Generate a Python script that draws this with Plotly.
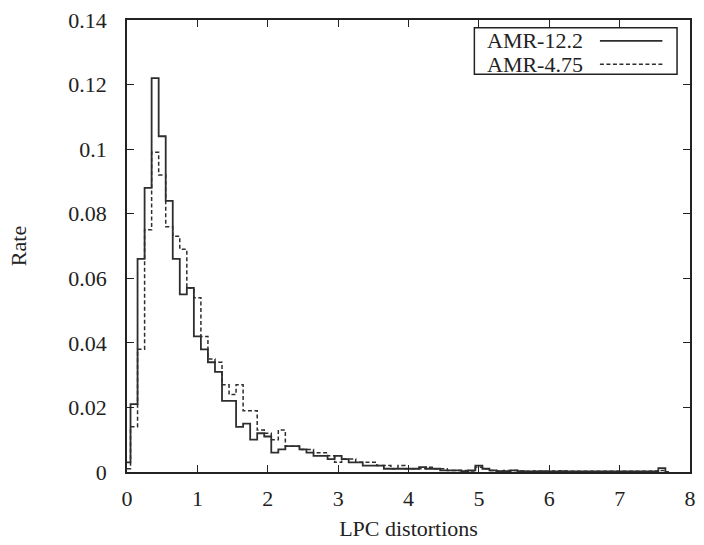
import plotly.graph_objects as go

# bin centres (LPC distortion), width 0.1
centers = [round(0.1 * i, 1) for i in range(78)]

amr_122 = [0.003, 0.021, 0.066, 0.088, 0.122, 0.104, 0.084, 0.066, 0.055, 0.057,
           0.042, 0.038, 0.034, 0.031, 0.022, 0.022, 0.014, 0.015, 0.010, 0.012,
           0.011, 0.006, 0.007, 0.008, 0.008, 0.007, 0.006, 0.005, 0.005, 0.004,
           0.005, 0.004, 0.003, 0.003, 0.002, 0.002, 0.002, 0.001, 0.001, 0.001,
           0.001, 0.001, 0.0015, 0.001, 0.001, 0.0005, 0.0005, 0.0005, 0.0003, 0.0005,
           0.002, 0.001, 0.0005, 0.0003, 0.0003, 0.0005, 0.0003, 0.0002, 0.0002, 0.0003,
           0.0002, 0.0002, 0.0003, 0.0002, 0.0002, 0.0002, 0.0002, 0.0002, 0.0002, 0.0002,
           0.0002, 0.0002, 0.0002, 0.0002, 0.0002, 0.0002, 0.0012, 0.0]

amr_475 = [0.001, 0.014, 0.038, 0.075, 0.099, 0.092, 0.076, 0.073, 0.069, 0.057,
           0.054, 0.042, 0.035, 0.034, 0.027, 0.024, 0.027, 0.019, 0.019, 0.013,
           0.012, 0.010, 0.013, 0.008, 0.008, 0.007, 0.007, 0.006, 0.006, 0.005,
           0.003, 0.004, 0.004, 0.003, 0.003, 0.003, 0.002, 0.002, 0.001, 0.002,
           0.001, 0.001, 0.001, 0.0015, 0.001, 0.001, 0.0005, 0.0005, 0.0005, 0.0003,
           0.0015, 0.001, 0.0005, 0.0003, 0.0005, 0.0005, 0.0003, 0.0002, 0.0003, 0.0002,
           0.0002, 0.0003, 0.0003, 0.0002, 0.0002, 0.0002, 0.0002, 0.0002, 0.0002, 0.0002,
           0.0002, 0.0002, 0.0002, 0.0002, 0.0002, 0.0003, 0.0005, 0.0]

series_names = ["AMR-12.2", "AMR-4.75"]
x_ticks = [0, 1, 2, 3, 4, 5, 6, 7, 8]
y_ticks = [0, 0.02, 0.04, 0.06, 0.08, 0.1, 0.12, 0.14]
y_tick_text = ["0", "0.02", "0.04", "0.06", "0.08", "0.1", "0.12", "0.14"]

FONT = "Liberation Serif"
INK = "#222222"
LINE = "#2e2e2e"

solid_style = dict(shape="hvh", color=LINE, width=1.8)
dash_style = dict(shape="hvh", color=LINE, width=1.5, dash="4px,2.5px")

fig = go.Figure()
fig.add_trace(go.Scatter(x=centers, y=amr_122, mode="lines", name=series_names[0],
                         line=solid_style))
fig.add_trace(go.Scatter(x=centers, y=amr_475, mode="lines", name=series_names[1],
                         line=dash_style))

axis_common = dict(showgrid=False, zeroline=False, showline=True, linecolor=INK,
                   linewidth=1.5, mirror="allticks", ticks="inside", ticklen=7,
                   tickwidth=1.2, tickcolor=INK,
                   tickfont=dict(family=FONT, size=22, color=INK))

fig.update_xaxes(range=[0, 8], tickvals=x_ticks, ticktext=[str(v) for v in x_ticks],
                 ticklabelstandoff=6,
                 title=dict(text="LPC distortions", font=dict(family=FONT, size=22, color=INK),
                            standoff=10),
                 **axis_common)
fig.update_yaxes(range=[0, 0.14], tickvals=y_ticks, ticktext=y_tick_text,
                 ticklabelstandoff=14,
                 title=dict(text="Rate", font=dict(family=FONT, size=22, color=INK),
                            standoff=36),
                 **axis_common)

# legend box (gnuplot style: text left, line sample right)
x0, x1, y0, y1 = 0.617, 0.977, 0.880, 0.983
fig.add_shape(type="rect", xref="paper", yref="paper", x0=x0, x1=x1, y0=y0, y1=y1,
              line=dict(color=INK, width=1.5), fillcolor="white", layer="above")
rows = [0.954, 0.902]
legend_lines = [dict(color=LINE, width=1.8), dict(color=LINE, width=1.5, dash="4px,2.5px")]
for name, ry, st in zip(series_names, rows, legend_lines):
    fig.add_annotation(xref="paper", yref="paper", x=0.636, y=ry, text=name,
                       showarrow=False, xanchor="left", yanchor="middle",
                       font=dict(family=FONT, size=22, color=INK))
    fig.add_shape(type="line", xref="paper", yref="paper", x0=0.840, x1=0.951,
                  y0=ry, y1=ry, line=st, layer="above")

fig.update_layout(width=704, height=545, showlegend=False,
                  margin=dict(l=127, r=8, t=17, b=68),
                  plot_bgcolor="white", paper_bgcolor="white")

fig.write_html("out.html")
